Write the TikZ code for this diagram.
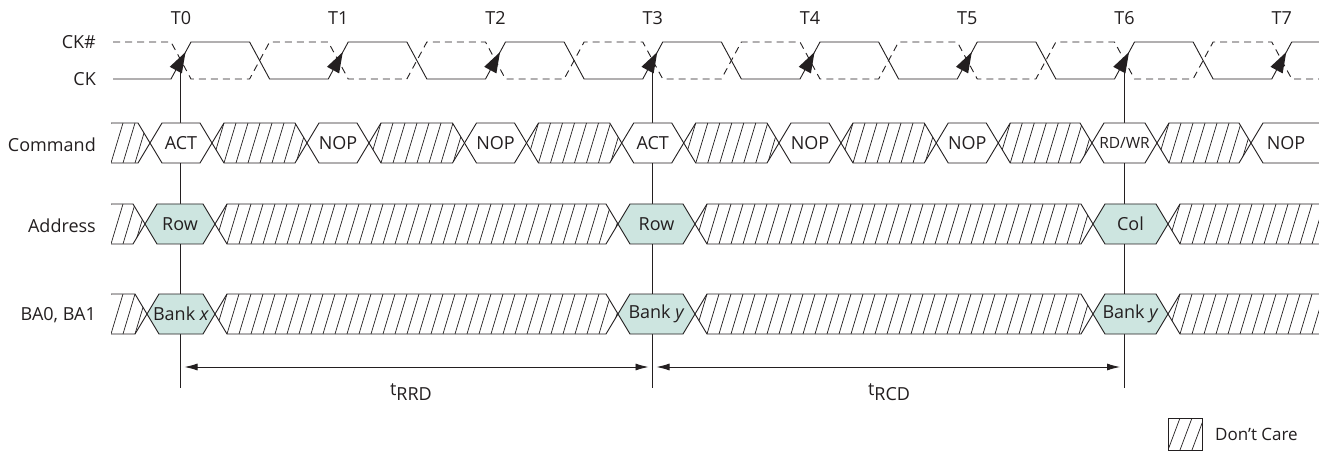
\documentclass[tikz,border=0pt]{standalone}
\usepackage{fontspec}
\setmainfont{Open Sans}
\usetikzlibrary{arrows.meta}
\definecolor{valid}{RGB}{205,229,224}
\definecolor{ink}{RGB}{35,31,32}
\tikzset{
  bus/.style={draw=ink, line width=0.9pt, line join=miter},
  hatch/.style={draw=ink, line width=0.7pt},
  clk/.style={draw=ink, line width=0.9pt},
  clkn/.style={draw=ink, line width=0.9pt, dash pattern=on 7pt off 5pt},
  lbl/.style={text=ink, font=\fontsize{18}{21}\selectfont, inner sep=0pt},
  dim/.style={draw=ink, line width=0.9pt, {Latex[length=13pt,width=7pt]}-{Latex[length=13pt,width=7pt]}, shorten <=4pt, shorten >=4pt},
  refline/.style={draw=ink, line width=0.9pt}
}
% hexagon-bounded hatched segment
\newcommand{\hatchseg}[2]{%
  \begin{scope}
    \clip (#1,\ym) -- (#1+12,\yt) -- (#2-12,\yt) -- (#2,\ym) -- (#2-12,\yb) -- (#1+12,\yb) -- cycle;
    \pgfmathsetmacro\hsA{#1-24}\pgfmathsetmacro\hsB{#1-12}
    \foreach \h in {\hsA,\hsB,...,#2} \draw[hatch] (\h,\yb) -- (\h+12,\yt);
  \end{scope}
  \draw[bus] (#1,\ym) -- (#1+12,\yt) -- (#2-12,\yt) -- (#2,\ym) -- (#2-12,\yb) -- (#1+12,\yb) -- cycle;}
\newcommand{\hatchfirst}[1]{%
  \begin{scope}
    \clip (111,\yt) -- (#1-12,\yt) -- (#1,\ym) -- (#1-12,\yb) -- (111,\yb) -- cycle;
    \pgfmathsetmacro\hsA{99}\pgfmathsetmacro\hsB{111}
    \foreach \h in {\hsA,\hsB,...,#1} \draw[hatch] (\h,\yb) -- (\h+12,\yt);
  \end{scope}
  \draw[bus] (111,\yt) -- (#1-12,\yt) -- (#1,\ym) -- (#1-12,\yb) -- (111,\yb);}
\newcommand{\hatchlast}[1]{%
  \begin{scope}
    \clip (#1,\ym) -- (#1+12,\yt) -- (1319,\yt) -- (1319,\yb) -- (#1+12,\yb) -- cycle;
    \pgfmathsetmacro\hsA{#1-24}\pgfmathsetmacro\hsB{#1-12}
    \foreach \h in {\hsA,\hsB,...,1320} \draw[hatch] (\h,\yb) -- (\h+12,\yt);
  \end{scope}
  \draw[bus] (1319,\yt) -- (#1+12,\yt) -- (#1,\ym) -- (#1+12,\yb) -- (1319,\yb);}
% valid hexagon with text node
\newcommand{\validseg}[5]{%
  \draw[bus, fill=#3] (#1,\ym) -- (#1+12,\yt) -- (#2-12,\yt) -- (#2,\ym) -- (#2-12,\yb) -- (#1+12,\yb) -- cycle;
  \node[lbl] (#4) at ({(#1+#2)/2},\ym) {#5};}
\begin{document}
\begin{tikzpicture}[x=1pt,y=-1pt]
\useasboundingbox (0,0) rectangle (1319,454);
\fill[white] (0,0) rectangle (1319,454);

% ---------- clock labels ----------
\foreach \k in {0,...,7} {
  \node[lbl] (t\k) at ({181+157.25*\k},18) {T\k};
}
\node[lbl, anchor=east] (ckn) at (96,42) {CK\#};
\node[lbl, anchor=east] (ck) at (96,79) {CK};
\node[lbl, anchor=east] (lcmd) at (96,145) {Command};
\node[lbl, anchor=east] (ladr) at (96,226) {Address};
\node[lbl, anchor=east] (lba) at (96,315) {BA0, BA1};

% ---------- clocks ----------
\draw[clk] (113,79)
  foreach \k in {0,...,6} {
    -- ({181+157.25*\k-10},79) -- ({181+157.25*\k+10},42)
    -- ({181+157.25*\k+68.6},42) -- ({181+157.25*\k+88.6},79) }
  -- ({181+157.25*7-10},79) -- ({181+157.25*7+10},42) -- (1319,42);
\draw[clkn] (113,42)
  foreach \k in {0,...,6} {
    -- ({181+157.25*\k-10},42) -- ({181+157.25*\k+10},79)
    -- ({181+157.25*\k+68.6},79) -- ({181+157.25*\k+88.6},42) }
  -- ({181+157.25*7-10},42) -- ({181+157.25*7+10},79) -- (1319,79);
% rising-edge arrowheads
\foreach \k in {0,...,7} {
  \pgfmathsetmacro\T{181+157.25*\k}
  \fill[ink] (\T+4.5,52.1) -- (\T+0.9,73.4) -- (\T-11.3,66.8) -- cycle;
}

% ---------- reference lines ----------
\coordinate (a0) at (180.5,70);  \coordinate (b0) at (180.5,388);
\coordinate (a3) at (652.5,70);  \coordinate (b3) at (652.5,388);
\coordinate (a6) at (1124,70);   \coordinate (b6) at (1124,388);
\draw[refline] (a0) -- (b0);
\draw[refline] (a3) -- (b3);
\draw[refline] (a6) -- (b6);

% ---------- Command bus ----------
\def\yt{123}\def\yb{163}\def\ym{143}
\hatchfirst{150}
\validseg{150}{212}{white}{c0}{ACT}
\hatchseg{212}{307}
\validseg{307}{369}{white}{c1}{NOP}
\hatchseg{369}{464.5}
\validseg{464.5}{526.5}{white}{c2}{NOP}
\hatchseg{526.5}{621.75}
\validseg{621.75}{683.75}{white}{c3}{ACT}
\hatchseg{683.75}{779}
\validseg{779}{841}{white}{c4}{NOP}
\hatchseg{841}{936.25}
\validseg{936.25}{998.25}{white}{c5}{NOP}
\hatchseg{998.25}{1092}
\validseg{1092}{1157}{white}{c6}{\fontsize{15.5}{18}\selectfont RD/WR}
\hatchseg{1157}{1251}
\draw[bus, fill=white] (1319,\yt) -- (1263,\yt) -- (1251,\ym) -- (1263,\yb) -- (1319,\yb);
\node[lbl] (c7) at (1286,\ym) {NOP};

% ---------- Address bus ----------
\def\yt{204}\def\yb{244}\def\ym{224}
\hatchfirst{145}
\validseg{145}{215}{valid}{r0}{Row}
\hatchseg{215}{618}
\validseg{618}{695}{valid}{r3}{Row}
\hatchseg{695}{1093}
\validseg{1093}{1168}{valid}{r6}{Col}
\hatchlast{1168}

% ---------- BA bus ----------
\def\yt{294}\def\yb{334}\def\ym{314}
\hatchfirst{147}
\validseg{147}{215}{valid}{k0}{Bank \textit{x}}
\hatchseg{215}{618}
\validseg{618}{695}{valid}{k3}{Bank \textit{y}}
\hatchseg{695}{1093}
\validseg{1093}{1168}{valid}{k6}{Bank \textit{y}}
\hatchlast{1168}

% ---------- timing dimensions ----------
\coordinate (d0) at (180.5,367);
\coordinate (d3) at (652.5,367);
\coordinate (d6) at (1124,367);
\draw[dim] (d0) -- (d3);
\draw[dim] (d3) -- (d6);
\node[lbl, anchor=base] (trrd) at (411,395) {t\raisebox{-5pt}{RRD}};
\node[lbl, anchor=base] (trcd) at (889,395) {t\raisebox{-5pt}{RCD}};

% ---------- legend ----------
\begin{scope}
  \clip (1168,418) rectangle (1202,450);
  \foreach \h in {1156,1168,...,1210} \draw[hatch] (\h,450) -- (\h+12,418);
\end{scope}
\draw[bus] (1168,418) rectangle (1202,450);
\node[lbl, anchor=west, font=\fontsize{17}{20}\selectfont] (dc) at (1215,434) {Don’t Care};
\end{tikzpicture}
\end{document}
